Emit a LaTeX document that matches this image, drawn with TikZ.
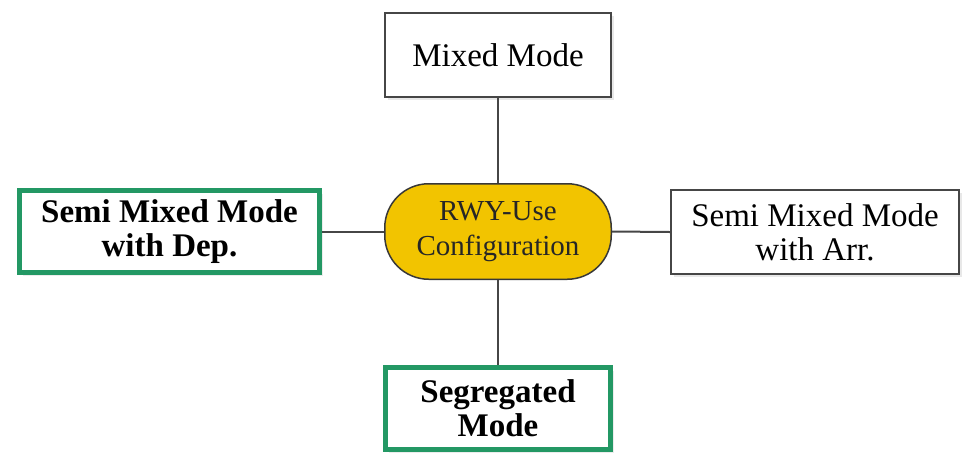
\documentclass[tikz,border=0pt]{standalone}
\usepackage{fontspec}
\setmainfont{Liberation Serif}
\usetikzlibrary{shadows}
\definecolor{boxgreen}{RGB}{35,152,100}
\definecolor{hubyellow}{RGB}{242,196,0}
\definecolor{linegray}{RGB}{70,70,70}
\tikzset{
  plainbox/.style={draw=linegray, line width=2pt, fill=white, align=center, inner sep=0pt,
    font=\fontsize{33}{34}\selectfont,
    drop shadow={opacity=0.18, shadow xshift=3pt, shadow yshift=-3pt}},
  greenbox/.style={draw=boxgreen, line width=5pt, fill=white, align=center, inner sep=0pt,
    font=\fontsize{33}{34}\selectfont\bfseries,
    drop shadow={opacity=0.15, shadow xshift=3pt, shadow yshift=-3pt}},
  hub/.style={draw=linegray!80!black, line width=1.5pt, fill=hubyellow, align=center, inner sep=0pt,
    rounded corners=44pt, text=black!85,
    font=\fontsize{29}{35}\selectfont},
  link/.style={draw=linegray, line width=2pt}
}
\begin{document}
\begin{tikzpicture}[x=1pt,y=-1pt]
\useasboundingbox (0,0) rectangle (971,456);
\node[hub, minimum width=226.5pt, minimum height=95.5pt] (hub) at (498,231.5) {RWY-Use\\Configuration};
\node[plainbox, minimum width=226pt, minimum height=84pt] (top) at (498,55) {Mixed Mode};
\node[greenbox, minimum width=300pt, minimum height=82pt] (left) at (169.5,231.5) {Semi Mixed Mode\\with Dep.};
\node[plainbox, minimum width=288pt, minimum height=84pt] (right) at (815,232) {Semi Mixed Mode\\with Arr.};
\node[greenbox, minimum width=225pt, minimum height=82pt] (bottom) at (498,408.5) {Segregated\\Mode};
\draw[link] (hub.north) -- (top.south);
\draw[link] (hub.south) -- (bottom.north);
\draw[link] (hub.west) -- (left.east);
\draw[link] (hub.east) -- (right.west);
\end{tikzpicture}
\end{document}
